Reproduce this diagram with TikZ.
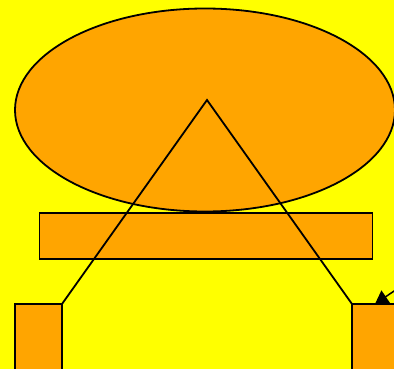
\documentclass[tikz,border=0pt]{standalone}
\usetikzlibrary{shapes.geometric,arrows.meta}
\definecolor{bgyellow}{RGB}{255,255,0}
\definecolor{shapeorange}{RGB}{255,165,0}
\begin{document}
\begin{tikzpicture}[x=1pt,y=-1pt,
  shapebox/.style={draw=black,fill=shapeorange,line width=1.8pt,inner sep=0pt,outer sep=0pt},
  leg/.style={draw=black,line width=1.8pt},
  pointer/.style={draw=black,line width=1.5pt,-{Triangle[length=13pt,width=15pt]}}]
\fill[bgyellow] (0,0) rectangle (394,369);
\useasboundingbox (0,0) rectangle (394,369);
\clip (0,0) rectangle (394,369);
\node[shapebox,ellipse,minimum width=380pt,minimum height=203pt] (oval) at (205,110) {};
\node[shapebox,rectangle,minimum width=333pt,minimum height=46pt] (bar) at (206,236) {};
\node[shapebox,rectangle,minimum width=47pt,minimum height=90pt,anchor=north west] (lbox) at (15,304) {};
\node[shapebox,rectangle,minimum width=70pt,minimum height=90pt,anchor=north west] (rbox) at (352,304) {};
\coordinate (apex) at (207,100);
\coordinate (tail) at (400,287);
\coordinate (tip) at (375,304);
\draw[leg] (lbox.north east) -- (apex) -- (rbox.north west);
\draw[pointer] (tail) -- (tip);
\end{tikzpicture}
\end{document}
